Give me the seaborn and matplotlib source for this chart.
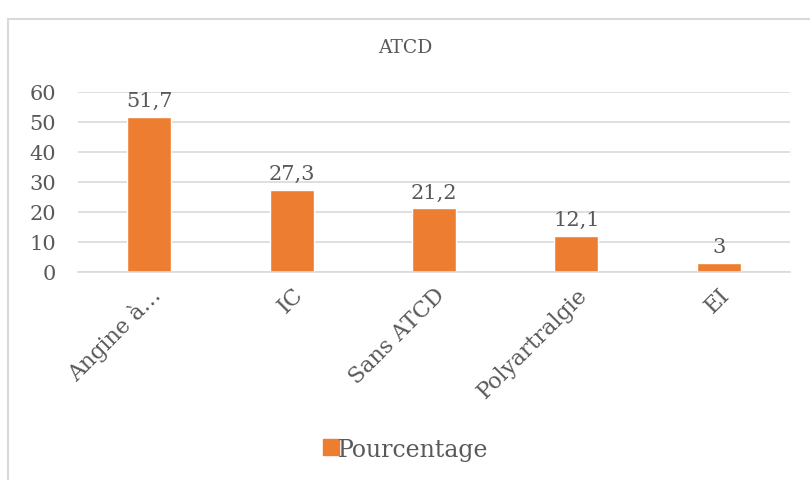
import pandas as pd
import matplotlib.pyplot as plt
import seaborn as sns
from matplotlib.lines import Line2D

categories = ['Angine à…', 'IC', 'Sans ATCD', 'Polyartralgie', 'EI']
values = [51.7, 27.3, 21.2, 12.1, 3]
series_name = 'Pourcentage'
y_ticks = [0, 10, 20, 30, 40, 50, 60]

df = pd.DataFrame({'ATCD': categories, series_name: values})

sns.set_theme(style='white')
plt.rcParams['font.family'] = ['DejaVu Serif']

txt = '#595959'
grid = '#D9D9D9'
orange = '#ED7D31'

fig = plt.figure(figsize=(8.1, 4.81), dpi=100)
ax = fig.add_axes([78 / 810, 1 - 273 / 481, (790 - 78) / 810, 180 / 481])

sns.barplot(data=df, x='ATCD', y=series_name, color=orange, width=0.31,
            saturation=1, ax=ax)

ax.set_ylim(0, 60)
ax.set_yticks(y_ticks)
ax.set_xlim(-0.5, len(categories) - 0.5)
ax.yaxis.grid(True, color=grid, linewidth=1.2)
ax.set_axisbelow(True)
for s in ['top', 'right', 'left']:
    ax.spines[s].set_visible(False)
ax.spines['bottom'].set_color(grid)
ax.spines['bottom'].set_linewidth(1.2)
ax.tick_params(axis='both', length=0, labelsize=15, colors=txt)
ax.tick_params(axis='y', pad=16)
ax.tick_params(axis='x', labelsize=16, pad=8)
ax.set_xlabel('')
ax.set_ylabel('')
plt.setp(ax.get_xticklabels(), rotation=45, ha='right', rotation_mode='anchor')

labels = [str(v).replace('.', ',') for v in values]
ax.bar_label(ax.containers[0], labels=labels, padding=5, fontsize=15, color=txt)

fig.text(0.5, 1 - 48 / 481, 'ATCD', ha='center', va='center', fontsize=13.5, color=txt)

handle = Line2D([], [], marker='s', linestyle='', color=orange, markersize=12)
fig.legend([handle], [series_name], loc='center', bbox_to_anchor=(0.5, 1 - 450 / 481),
           frameon=False, fontsize=17, labelcolor=txt, handletextpad=-0.1,
           handlelength=0.8)

# chart area frame
fig.add_artist(Line2D([8 / 810, 8 / 810], [0, 1 - 20 / 481], color=grid,
                      linewidth=1.5, transform=fig.transFigure))
fig.add_artist(Line2D([8 / 810, 1], [1 - 20 / 481, 1 - 20 / 481], color=grid,
                      linewidth=1.5, transform=fig.transFigure))

plt.savefig('out.png', dpi=100)
